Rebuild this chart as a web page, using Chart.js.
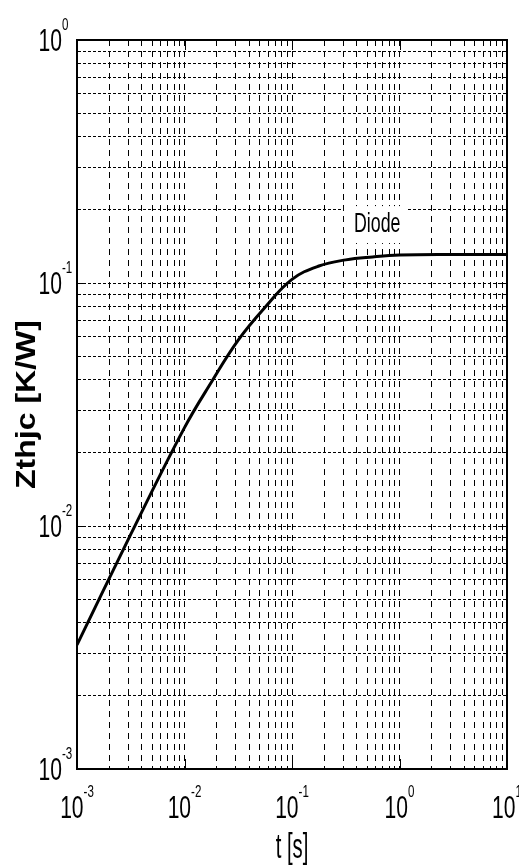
<!DOCTYPE html>
<html>
<head>
<meta charset="utf-8">
<script src="https://cdn.jsdelivr.net/npm/chart.js@4.4.0/dist/chart.umd.min.js"></script>
<style>
  html, body { margin: 0; padding: 0; background: #fff; }
  #wrap { width: 519px; height: 866px; }
</style>
</head>
<body>
<div id="wrap"><canvas id="zthChart"></canvas></div>
<script>
//----- data (t in s, Zthjc in K/W) -----
const timeS = [0.001, 0.00316, 0.01, 0.018, 0.0316, 0.0562, 0.1, 0.178, 0.316, 0.562, 1, 3.16, 10];
const zthDiode = [0.00324, 0.00923, 0.0254, 0.0394, 0.0582, 0.0794, 0.1035, 0.1175, 0.1245, 0.128, 0.1303, 0.131, 0.131];
const seriesLabel = 'Diode';

//----- axes: decades and their exponent labels -----
const xDecades = [0.001, 0.01, 0.1, 1, 10];
const xTickExp = ['-3', '-2', '-1', '0', '1'];
const yDecades = [0.001, 0.01, 0.1, 1];
const yTickExp = ['-3', '-2', '-1', '0'];
const xTitle = 't [s]';
const yTitle = 'Zthjc [K/W]';

// 1..9 x every decade -> one grid line each
function logGrid(decades) {
    const out = [];
    decades.forEach((d, i) => {
        if (i === decades.length - 1) { out.push(d); return; }
        for (let m = 1; m < 10; m++) out.push(+(m * d).toPrecision(3));
    });
    return out;
}
const xGrid = logGrid(xDecades);
const yGrid = logGrid(yDecades);

const FONT = '"Liberation Sans", Arial, sans-serif';
const TICK_SX = 0.68;

// draw text squeezed horizontally (the original picture is narrow)
function squeezed(ctx, str, x, y, sx) {
    ctx.save();
    ctx.translate(x, y);
    ctx.scale(sx, 1);
    ctx.fillText(str, 0, 0);
    ctx.restore();
}

function powerLabel(ctx, exp, left, baseline, sx) {
    ctx.font = '31px ' + FONT;
    const w10 = ctx.measureText('10').width * sx;
    squeezed(ctx, '10', left, baseline, sx);
    ctx.font = '17px ' + FONT;
    squeezed(ctx, exp, left + w10, baseline - 21, sx);
}

function powerWidth(ctx, exp, sx) {
    ctx.font = '31px ' + FONT;
    const w10 = ctx.measureText('10').width;
    ctx.font = '17px ' + FONT;
    return (w10 + ctx.measureText(exp).width) * sx;
}

const frameAndLabels = {
    id: 'frameAndLabels',
    afterDraw(chart) {
        const {ctx, chartArea: a, scales: {x, y}} = chart;
        ctx.save();
        ctx.strokeStyle = '#000';
        ctx.fillStyle = '#000';

        // box
        ctx.lineWidth = 2;
        ctx.strokeRect(a.left, a.top, a.right - a.left, a.bottom - a.top);

        // inner major ticks
        ctx.lineWidth = 1;
        ctx.beginPath();
        xDecades.forEach(v => {
            const px = Math.round(x.getPixelForValue(v)) + 0.5;
            ctx.moveTo(px, a.bottom); ctx.lineTo(px, a.bottom - 10);
            ctx.moveTo(px, a.top); ctx.lineTo(px, a.top + 10);
        });
        yDecades.forEach(v => {
            const py = Math.round(y.getPixelForValue(v)) + 0.5;
            ctx.moveTo(a.left, py); ctx.lineTo(a.left + 8, py);
            ctx.moveTo(a.right, py); ctx.lineTo(a.right - 8, py);
        });
        ctx.stroke();

        // tick labels
        ctx.textAlign = 'left';
        ctx.textBaseline = 'alphabetic';
        xDecades.forEach((v, i) => {
            const px = x.getPixelForValue(v);
            const w = powerWidth(ctx, xTickExp[i], TICK_SX);
            powerLabel(ctx, xTickExp[i], px - w / 2, a.bottom + 49, TICK_SX);
        });
        yDecades.forEach((v, i) => {
            const py = y.getPixelForValue(v);
            ctx.font = '31px ' + FONT;
            const w10 = ctx.measureText('10').width * TICK_SX;
            powerLabel(ctx, yTickExp[i], a.left - 15 - w10, py + 11, TICK_SX);
        });

        // series label on a white patch
        const lx = x.getPixelForValue(0.377);
        const ly = y.getPixelForValue(0.162);
        ctx.font = '27px ' + FONT;
        const lw = ctx.measureText(seriesLabel).width * 0.66;
        ctx.fillStyle = '#fff';
        ctx.fillRect(lx - 10, ly - 26, lw + 16, 37);
        ctx.fillStyle = '#000';
        squeezed(ctx, seriesLabel, lx, ly, 0.66);

        // axis titles
        ctx.font = '35px ' + FONT;
        ctx.textAlign = 'center';
        squeezed(ctx, xTitle, (a.left + a.right) / 2, 858, 0.58);

        ctx.font = 'bold 32px ' + FONT;
        ctx.save();
        ctx.translate(35, (a.top + a.bottom) / 2);
        ctx.rotate(-Math.PI / 2);
        ctx.scale(1, 0.85);
        ctx.fillText(yTitle, 0, 0);
        ctx.restore();

        ctx.restore();
    }
};

const ctx = document.getElementById('zthChart').getContext('2d');

const chartData = {
    type: 'line',
    data: {
        datasets: [{
            label: seriesLabel,
            data: timeS.map((t, i) => ({x: t, y: zthDiode[i]})),
            borderColor: '#000',
            borderWidth: 3,
            pointRadius: 0,
            tension: 0.4,
            fill: false,
        }],
    },
    options: {
        responsive: true,
        maintainAspectRatio: false,
        animation: false,
        layout: { padding: { left: 77, right: 12, top: 40, bottom: 97 } },
        plugins: { legend: { display: false }, tooltip: { enabled: false } },
        scales: {
            x: {
                type: 'logarithmic',
                min: 0.001,
                max: 10,
                afterBuildTicks: scale => { scale.ticks = xGrid.map(v => ({value: v})); },
                ticks: { display: false },
                grid: { color: '#000', lineWidth: 1, drawTicks: false },
                border: { display: true, color: '#000', width: 2, dash: [6, 5] },
            },
            y: {
                type: 'logarithmic',
                min: 0.001,
                max: 1,
                afterBuildTicks: scale => { scale.ticks = yGrid.map(v => ({value: v})); },
                ticks: { display: false },
                grid: { color: '#000', lineWidth: 1, drawTicks: false },
                border: { display: true, color: '#000', width: 2, dash: [3, 2] },
            },
        },
    },
    plugins: [frameAndLabels],
};

const zthChart = new Chart(ctx, chartData);
</script>
</body>
</html>
